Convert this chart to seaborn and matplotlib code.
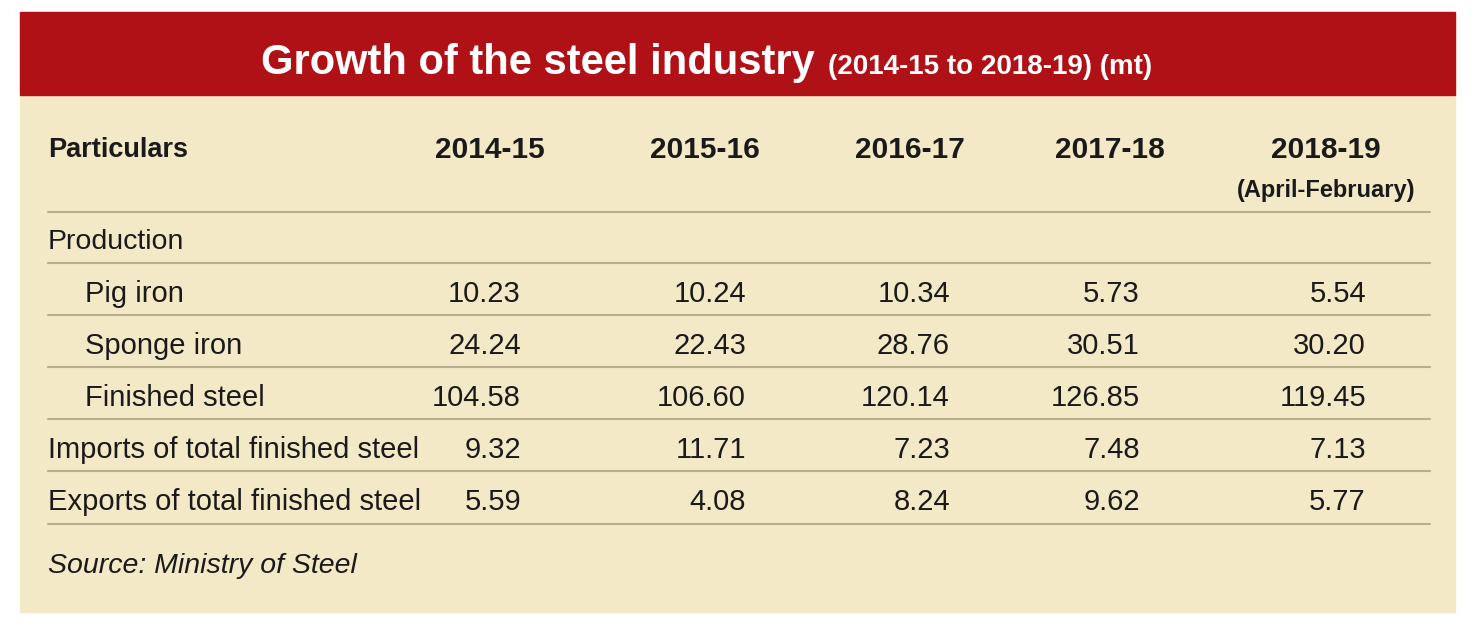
import matplotlib.pyplot as plt
import matplotlib.patches as mpatches
import seaborn as sns

# 1. Table values
years = ['2014-15', '2015-16', '2016-17', '2017-18', '2018-19']
row_labels = ['Pig iron', 'Sponge iron', 'Finished steel',
              'Imports of total finished steel', 'Exports of total finished steel']
pig_iron = ['10.23', '10.24', '10.34', '5.73', '5.54']
sponge_iron = ['24.24', '22.43', '28.76', '30.51', '30.20']
finished_steel = ['104.58', '106.60', '120.14', '126.85', '119.45']
imports = ['9.32', '11.71', '7.23', '7.48', '7.13']
exports = ['5.59', '4.08', '8.24', '9.62', '5.77']

# 2. Canvas set-up: one axes in pixel units over the whole figure
sns.set_theme(style="white")
plt.rcParams['font.family'] = ['Liberation Sans', 'DejaVu Sans']
fig = plt.figure(figsize=(14.74, 6.28), dpi=100)
ax = fig.add_axes([0, 0, 1, 1])
ax.set_xlim(0, 1474)
ax.set_ylim(628, 0)
ax.axis('off')

RED = '#B01116'
BEIGE = '#F3E9C6'
LINE = '#B9AE8C'

# --- PANEL AND HEADER ---
ax.add_patch(mpatches.Rectangle((20, 12), 1435, 600, color=BEIGE, zorder=0))
ax.add_patch(mpatches.Rectangle((20, 12), 1435, 83, color=RED, zorder=1))
ax.text(815, 74, 'Growth of the steel industry', color='white', fontsize=30, fontweight='bold',
        ha='right', va='baseline')
ax.text(828, 74, '(2014-15 to 2018-19) (mt)', color='white', fontsize=20, fontweight='bold',
        ha='left', va='baseline')

# --- COLUMN HEADINGS ---
head_x = [490, 705, 910, 1110, 1326]
ax.text(48, 150, 'Particulars', fontsize=19.5, fontweight='bold', va='center', color='#1a1a1a')
for x, yr in zip(head_x, years):
    ax.text(x, 150, yr, fontsize=21.5, fontweight='bold', ha='center', va='center', color='#1a1a1a')
ax.text(head_x[-1], 190, '(April-February)', fontsize=17, fontweight='bold', ha='center', va='center',
        color='#1a1a1a')

# --- BODY ROWS ---
val_x = [521, 746, 950, 1140, 1366]
ax.text(48, 242, 'Production', fontsize=20.5, va='center', color='#1a1a1a')
rows = [pig_iron, sponge_iron, finished_steel, imports, exports]
row_y = [294, 346, 398, 450, 502]
for i, (label, vals, y) in enumerate(zip(row_labels, rows, row_y)):
    lx = 85 if i < 3 else 48
    ax.text(lx, y, label, fontsize=21, va='center', color='#1a1a1a')
    for x, v in zip(val_x, vals):
        ax.text(x, y, v, fontsize=21, ha='right', va='center', color='#1a1a1a')

for y in [212, 263, 315, 367, 419, 471, 524]:
    ax.plot([48, 1430], [y, y], color=LINE, lw=1.5)

ax.text(48, 566, 'Source: Ministry of Steel', fontsize=20.5, style='italic', va='center', color='#1a1a1a')

# 3. Save
plt.savefig('out.png', dpi=100)
